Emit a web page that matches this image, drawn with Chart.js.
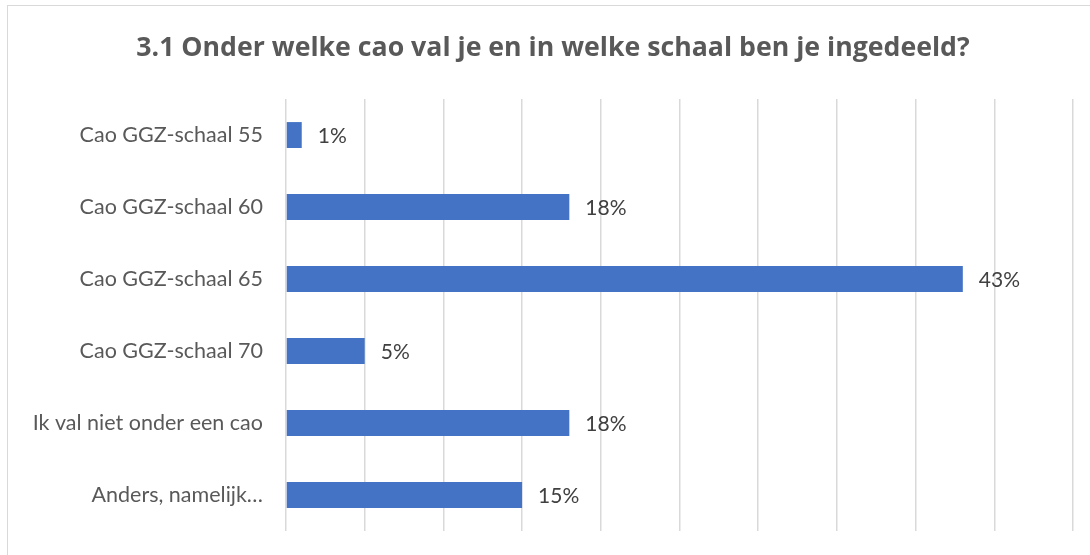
<!DOCTYPE html>
<html>
<head>
<meta charset="utf-8">
<script src="https://cdn.jsdelivr.net/npm/chart.js@4.4.1/dist/chart.umd.min.js"></script>
<style>
  html, body { margin: 0; padding: 0; background: #fff; }
  #wrap { position: relative; width: 1090px; height: 555px; overflow: hidden; }
  #frame { position: absolute; left: 7px; top: 5px; width: 1200px; height: 700px; border: 1px solid #d9d9d9; }
  canvas { position: absolute; left: 0; top: 0; }
</style>
</head>
<body>
<div id="wrap">
  <div id="frame"></div>
  <canvas id="caoChart" width="1090" height="555"></canvas>
</div>
<script>
const titleText = '3.1 Onder welke cao val je en in welke schaal ben je ingedeeld?';
const categories = [
    'Cao GGZ-schaal 55',
    'Cao GGZ-schaal 60',
    'Cao GGZ-schaal 65',
    'Cao GGZ-schaal 70',
    'Ik val niet onder een cao',
    'Anders, namelijk…'
];
const percentages = [1, 18, 43, 5, 18, 15];
const axisMin = 0;
const axisMax = 50;
const axisStep = 5;

const fontFamily = 'Lato, "Open Sans", sans-serif';
const titleFamily = '"Open Sans", Lato, sans-serif';
const textColor = '#595959';
const labelColor = '#404040';
const gridColor = '#d9d9d9';

// labels naast de balken tekenen
const valueLabels = {
    id: 'valueLabels',
    afterDatasetsDraw(chart) {
        const ctx = chart.ctx;
        const meta = chart.getDatasetMeta(0);
        ctx.save();
        ctx.font = '21px ' + fontFamily;
        ctx.fillStyle = labelColor;
        ctx.textAlign = 'left';
        ctx.textBaseline = 'middle';
        meta.data.forEach((bar, i) => {
            ctx.fillText(percentages[i] + '%', bar.x + 16, bar.y + 1);
        });
        ctx.restore();
    }
};

const ctx = document.getElementById('caoChart').getContext('2d');
new Chart(ctx, {
    type: 'bar',
    data: {
        labels: categories,
        datasets: [{
            data: percentages,
            backgroundColor: '#4472c4',
            barPercentage: 0.36,
            categoryPercentage: 1.0
        }]
    },
    options: {
        indexAxis: 'y',
        responsive: false,
        animation: false,
        layout: { padding: { left: 16, right: 0, top: 0, bottom: 24 } },
        plugins: {
            legend: { display: false },
            tooltip: { enabled: false },
            title: {
                display: true,
                text: titleText,
                color: textColor,
                font: { family: titleFamily, size: 26.7, weight: 'bold' },
                padding: { top: 32, bottom: 35 }
            }
        },
        scales: {
            x: {
                min: axisMin,
                max: axisMax,
                ticks: { display: false, stepSize: axisStep },
                grid: { color: gridColor, lineWidth: 1.5, drawTicks: false },
                border: { display: false },
                afterFit: (scale) => { scale.height = 0; }
            },
            y: {
                ticks: {
                    color: textColor,
                    font: { family: fontFamily, size: 21.5 },
                    padding: 23
                },
                grid: { display: false, drawTicks: false },
                border: { display: false },
                afterFit: (scale) => {
                    scale.width = 270;
                    scale.paddingTop = 0;
                    scale.paddingBottom = 0;
                }
            },
            // lege as rechts als marge
            yRight: {
                type: 'category',
                position: 'right',
                ticks: { display: false },
                grid: { display: false, drawTicks: false },
                border: { display: false },
                afterFit: (scale) => {
                    scale.width = 17;
                    scale.paddingTop = 0;
                    scale.paddingBottom = 0;
                }
            }
        }
    },
    plugins: [valueLabels]
});
</script>
</body>
</html>
